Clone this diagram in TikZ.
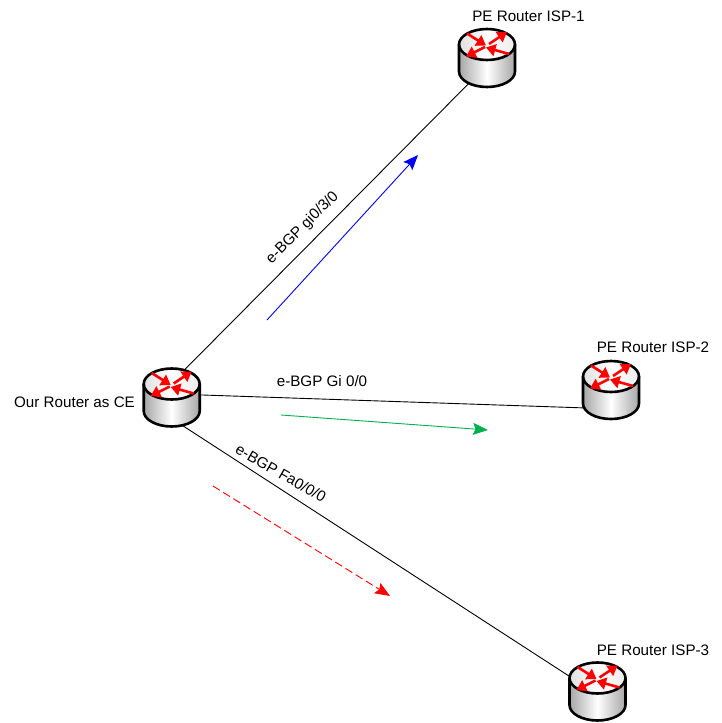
\documentclass[tikz,border=0pt]{standalone}
\usepackage{fontspec}
\setmainfont{Liberation Sans}
\usepackage{tikz}
\usetikzlibrary{positioning,arrows.meta}
\definecolor{flowgreen}{RGB}{0,176,80}

\begin{document}
\begin{tikzpicture}[
    x = 1pt, y = -1pt,
    routerbox/.style = {circle, minimum size=58.6pt, inner sep=0pt, outer sep=0pt},
    label/.style = {font=\fontsize{15.2}{18}\selectfont, inner sep=0pt},
    link/.style = {draw=black, line width=0.9pt},
    flow/.style = {line width=0.9pt, -{Stealth[length=15pt,width=12pt,inset=2.5pt]}},
    lid arrow/.style = {draw=red, line width=2.6pt, -{Triangle[length=9.5pt,width=12pt]}},
    router/.pic = {
        \shade[left color=gray!70, right color=gray!70, middle color=white]
            (-28,-13.5) -- (-28,13.5) arc [start angle=180, end angle=360, x radius=28pt, y radius=15.5pt] -- (28,-13.5) -- cycle;
        \shade[left color=gray!25, right color=gray!15, middle color=white] (0,-13.5) ellipse [x radius=28pt, y radius=15.5pt];
        \draw[line width=2.6pt] (-28,-13.5) -- (-28,13.5) arc [start angle=180, end angle=360, x radius=28pt, y radius=15.5pt] -- (28,-13.5);
        \draw[line width=2.6pt] (0,-13.5) ellipse [x radius=28pt, y radius=15.5pt];
        % four arrows on the lid
        \draw[lid arrow] (-20,-24.5) -- (-1,-12.5);
        \draw[lid arrow] (2,-14) -- (20,-26);
        \draw[lid arrow] (22,-4) -- (-1,-10.5);
        \draw[lid arrow] (-2,-11) -- (-21,-1.5);
    }
]
\useasboundingbox (0,0) rectangle (721,723);

\node (ce) [routerbox] at (171.7,397.5) {};
\node (isp1) [routerbox] at (487,58) {};
\node (isp2) [routerbox] at (611,390) {};
\node (isp3) [routerbox] at (597.5,691.5) {};

\draw[link] (ce.66) to (isp1.235);
\draw[link] (ce.5) to (isp2.218);
\draw[link] (ce.-70) to (isp3.152);

\pic at (ce) {router};
\pic at (isp1) {router};
\pic at (isp2) {router};
\pic at (isp3) {router};

\node (celabel) [label] at (74.5,402) {Our Router as CE};
\node (isp1label) [label] at (528.5,16) {PE Router ISP-1};
\node (isp2label) [label] at (653,347) {PE Router ISP-2};
\node (isp3label) [label] at (653,650) {PE Router ISP-3};

\node (gilabel) [label, rotate=45] at (302.5,228) {e-BGP gi0/3/0};
\node (gelabel) [label] at (322,381) {e-BGP Gi 0/0};
\node (falabel) [label, rotate=-30] at (281,473) {e-BGP Fa0/0/0};

\coordinate (bluestart) at (267,320);
\coordinate (blueend) at (418,155);
\coordinate (greenstart) at (281,415);
\coordinate (greenend) at (488,430);
\coordinate (redstart) at (213,486);
\coordinate (redend) at (390,596);

\draw[flow, blue] (bluestart) to (blueend);
\draw[flow, flowgreen] (greenstart) to (greenend);
\draw[flow, red, dash pattern=on 8pt off 4pt] (redstart) to (redend);
\end{tikzpicture}
\end{document}
